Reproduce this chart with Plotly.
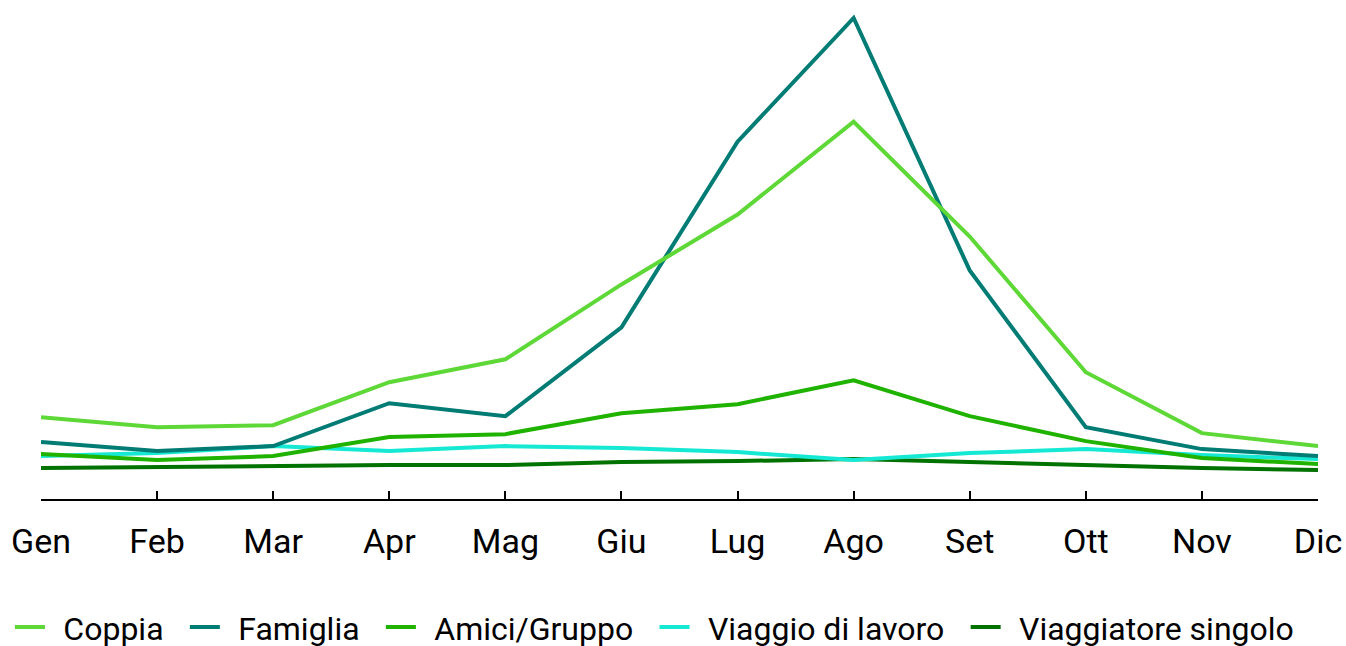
import plotly.graph_objects as go

months = ["Gen", "Feb", "Mar", "Apr", "Mag", "Giu", "Lug", "Ago", "Set", "Ott", "Nov", "Dic"]

coppia = [81, 71, 73, 116, 139, 214, 284, 377, 262, 126, 65, 52]
famiglia = [56, 47, 52, 95, 82, 171, 357, 481, 228, 71, 49, 42]
amici_gruppo = [44, 38, 42, 61, 64, 85, 94, 118, 82, 57, 40, 34]
viaggio_lavoro = [42, 45, 52, 47, 52, 50, 46, 38, 45, 49, 43, 39]
viaggiatore_singolo = [30, 31, 31, 33, 33, 36, 37, 39, 36, 33, 30, 28]

series = [
    ("Coppia", coppia, "#5ed837"),
    ("Famiglia", famiglia, "#007c74"),
    ("Amici/Gruppo", amici_gruppo, "#1fb300"),
    ("Viaggio di lavoro", viaggio_lavoro, "#15e8d3"),
    ("Viaggiatore singolo", viaggiatore_singolo, "#007200"),
]

# extra spacing around legend labels
LEAD = "\u00a0\u2006"
TRAIL = "\u2002"

fig = go.Figure()
# draw in reverse so Coppia ends up on top; legendrank keeps legend order
for rank, (name, vals, color) in reversed(list(enumerate(series))):
    fig.add_trace(go.Scatter(
        x=months, y=vals, name=LEAD + name + TRAIL, mode="lines",
        legendrank=rank + 1,
        line=dict(color=color, width=4),
    ))

fig.update_layout(
    width=1346, height=646,
    margin=dict(l=41, r=28, t=0, b=147, autoexpand=False),
    paper_bgcolor="white", plot_bgcolor="white",
    font=dict(family="Roboto", size=32, color="#000000"),
    showlegend=True,
    legend=dict(
        orientation="h", x=-0.0243, xanchor="left", y=-0.202, yanchor="top",
        traceorder="normal", font=dict(size=32),
        itemwidth=30,
    ),
    xaxis=dict(
        showline=True, linecolor="#000000", linewidth=2,
        ticks="inside", ticklen=8, tickwidth=2, tickcolor="#000000",
        showgrid=False, zeroline=False, range=[0, 11],
        tickfont=dict(size=34), ticklabelstandoff=11,
    ),
    yaxis=dict(visible=False, range=[-1, 499], showgrid=False, zeroline=False),
)

fig.write_html("out.html")
